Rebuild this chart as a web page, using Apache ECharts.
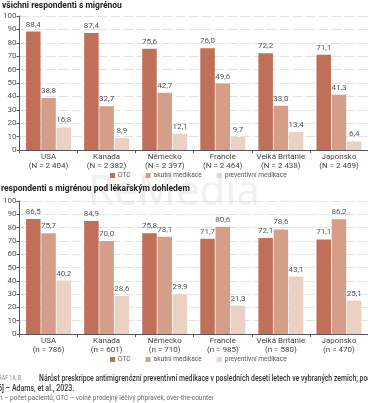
<!DOCTYPE html>
<html><head><meta charset="utf-8">
<script src="https://cdn.jsdelivr.net/npm/echarts@6/dist/echarts.min.js"></script>
<style>html,body{margin:0;padding:0;background:#fff}#c{width:368px;height:403px}</style>
</head><body><div id="c"></div>
<script>
const countries = ['USA','Kanada','Německo','Francie','Velká Británie','Japonsko'];
const nAll = ['N = 2 404','N = 2 382','N = 2 397','N = 2 464','N = 2 438','N = 2 409'];
const nDoc = ['n = 786','n = 601','n = 710','n = 985','n = 580','n = 470'];
const seriesNames = ['OTC','akutní medikace','preventivní medikace'];
const allOTC = [88.4,87.4,75.6,76.0,72.2,71.1];
const allAcute = [38.8,32.7,42.7,49.6,33.0,41.3];
const allPrev = [16.8,8.9,12.1,9.7,13.4,6.4];
const docOTC = [86.5,84.9,75.8,71.7,72.1,71.1];
const docAcute = [75.7,70.0,73.1,80.6,78.6,86.2];
const docPrev = [40.2,28.6,29.9,21.3,43.1,25.1];
const yTicks = [0,100,10];

const FONT = '"Roboto","Noto Sans",sans-serif';
const colors = ['#c06f58','#d59e89','#ebd0c4'];
const chart = echarts.init(document.getElementById('c'), null, {renderer:'canvas'});

const grids = [{left:18, width:355, top:16, height:134},{left:18, width:355, top:201, height:133}];
function xAxis(i, ns){
  return {type:'category', gridIndex:i, data:countries.map((c,k)=>c+'\n('+ns[k]+')'),
    axisLine:{lineStyle:{color:'#555',width:1}},
    axisTick:{show:true,length:3,lineStyle:{color:'#555'}},
    axisLabel:{fontFamily:FONT,fontSize:8,color:'#444',lineHeight:8.5,margin:3,interval:0}};
}
function yAxis(i){
  return {type:'value', gridIndex:i, min:yTicks[0], max:yTicks[1], interval:yTicks[2],
    axisLine:{show:true,lineStyle:{color:'#555'}},
    axisTick:{show:true,length:3,lineStyle:{color:'#555'}},
    axisLabel:{fontFamily:FONT,fontSize:8,color:'#555',margin:3},
    splitLine:{lineStyle:{color:'#e2e2e2',type:[10,3],width:1}}};
}
function bars(i, data, idx){
  return {name:seriesNames[idx], type:'bar', xAxisIndex:i, yAxisIndex:i, data:data,
    barWidth:14.5, barGap:'5%', itemStyle:{color:colors[idx]},
    label:{show:true,position:'top',distance:3,fontFamily:FONT,fontSize:8,color:'#555',
      formatter:p=>p.value.toFixed(1).replace('.',',')}};
}
function legend(top){
  return {top:top, left:110, padding:0, itemWidth:5, itemHeight:5, itemGap:15, icon:'rect',
    textStyle:{fontFamily:FONT,fontSize:6.6,color:'#555',padding:[0,0,0,-2]}, data:seriesNames, selectedMode:false};
}
chart.setOption({
  animation:false,
  grid:grids,
  xAxis:[xAxis(0,nAll), xAxis(1,nDoc)],
  yAxis:[yAxis(0), yAxis(1)],
  legend:[legend(172), legend(356)],
  series:[bars(0,allOTC,0),bars(0,allAcute,1),bars(0,allPrev,2),
          bars(1,docOTC,0),bars(1,docAcute,1),bars(1,docPrev,2)],
  graphic:[
    {type:'text', x:88, y:172, z:-10, silent:true, style:{text:'ReMedia', font:'42px "Noto Sans", sans-serif', fill:'#f0f0f0'}},
    {type:'text', left:2, top:1, style:{text:'všichni respondenti s migrénou', font:'bold 8.5px '+FONT, fill:'#222'}},
    {type:'text', left:1, top:184, style:{text:'respondenti s migrénou pod lékařským dohledem', font:'bold 8.5px '+FONT, fill:'#222'}},
    {type:'text', x:-5, y:375, scaleX:0.8, style:{text:'GRAF 1A, B', font:'6.5px '+FONT, fill:'#888'}},
    {type:'text', x:39, y:374, scaleX:0.81, style:{text:'Nárůst preskripce antimigrenózní preventivní medikace v posledních deseti letech ve vybraných zemích; podle', font:'500 8.5px '+FONT, fill:'#333'}},
    {type:'text', x:-4, y:384, scaleX:0.83, style:{text:'[6] – Adams, et al., 2023.', font:'500 8.5px '+FONT, fill:'#333'}},
    {type:'text', x:-1, y:395, style:{text:'n – počet pacientů; OTC – volně prodejný léčivý přípravek, over-the-counter', font:'6.5px '+FONT, fill:'#666'}}
  ]
});
</script></body></html>
